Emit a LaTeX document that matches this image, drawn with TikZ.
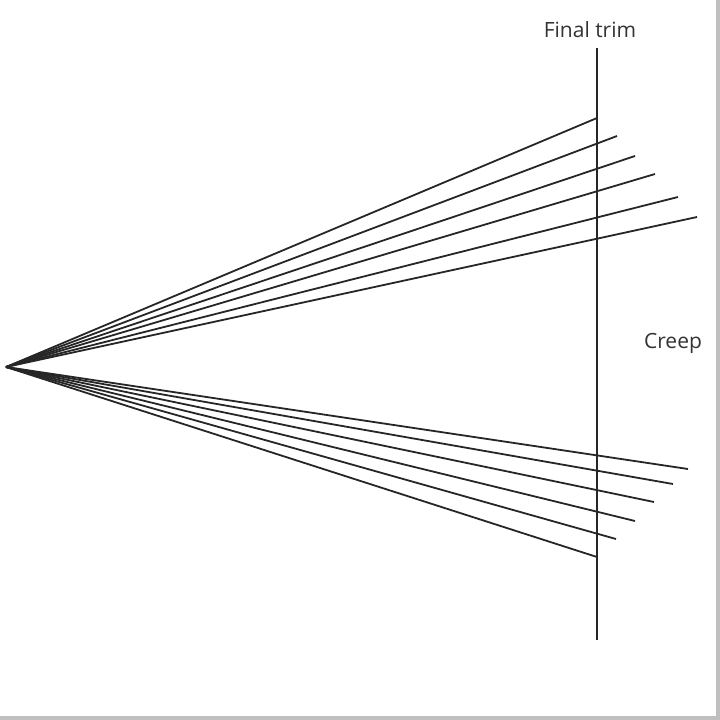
\documentclass[tikz,border=0pt]{standalone}
\usepackage{fontspec}
\setmainfont{Open Sans}
\usetikzlibrary{calc}

\begin{document}
\begin{tikzpicture}[x=1pt,y=-1pt,
  ray/.style={line width=1.8pt,black!85},
  lbl/.style={text=black!80,font=\fontsize{21}{24}\selectfont,inner sep=0pt}]
\useasboundingbox (0,0) rectangle (720,720);
\fill[black!25] (716,0) rectangle (720,720);
\fill[black!25] (0,716) rectangle (720,720);
\coordinate (apex) at (6,367);
% final trim line
\coordinate (trimtop) at (597,48);
\coordinate (trimbot) at (597,640);
\draw[ray] (trimtop) -- (trimbot);
\node[lbl,anchor=base] (trim) at (590,37) {Final trim};
\node[lbl] (creep) at (673,343) {Creep};
% signatures fanning out
\foreach \px/\py [count=\i] in {597/118,617/136,635/156,655/174,678/197,697/217,
                               688/469,673/484,654/502,635/521,616/539,597/557}
  \draw[ray] (apex) -- (\px,\py) coordinate (end\i);
\end{tikzpicture}
\end{document}
